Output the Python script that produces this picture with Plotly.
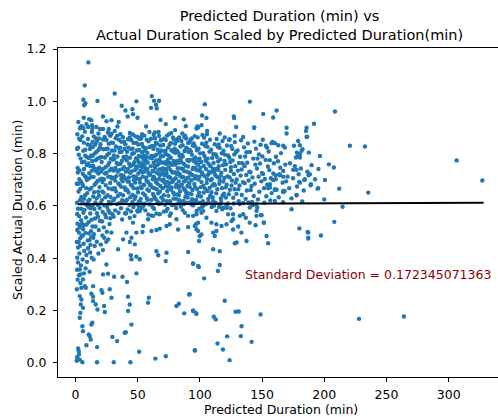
import plotly.graph_objects as go

# ---------------- data (predicted minutes, scaled actual duration) ----------------
bin_0_20 = [
(1.2,0.612),(2.5,0.655),(3.1,0.702),(1.8,0.745),(4.2,0.781),(2.2,0.823),(5.5,0.866),(3.6,0.897),(6.8,0.842),(7.9,0.792),
(9.2,0.756),(8.4,0.711),(6.1,0.676),(4.8,0.634),(9.6,0.603),(7.3,0.585),(2.9,0.561),(5.2,0.532),(1.5,0.508),(8.1,0.497),
(3.8,0.476),(6.6,0.455),(2.1,0.441),(9.0,0.529),(4.5,0.589),(1.1,0.685),(3.3,0.736),(5.9,0.723),(8.8,0.668),(7.0,0.627),
(2.7,0.796),(4.0,0.852),(6.3,0.811),(9.8,0.835),(1.6,0.874),(5.0,0.905),(7.6,0.884),(8.9,0.913),(2.3,0.921),(3.9,0.665),
(6.9,0.741),(9.4,0.786),(1.4,0.569),(5.7,0.612),(8.5,0.556),(3.4,0.518),(6.0,0.487),(9.9,0.468),(2.6,0.462),(4.6,0.545),
(7.8,0.641),(1.9,0.728),(5.3,0.767),(8.0,0.815),(3.0,0.857),(6.5,0.898),(4.3,0.694),(7.2,0.769),(9.1,0.699),(1.3,0.818),
(2.0,0.589),(4.9,0.486),(6.4,0.574),(8.6,0.607),(3.7,0.622),(5.6,0.684),(7.5,0.714),(9.5,0.649),(2.4,0.685),(6.7,0.526),
(1.7,0.532),
(10.3,0.618),(11.5,0.664),(12.8,0.712),(14.1,0.754),(15.6,0.801),(17.2,0.846),(18.5,0.877),(19.7,0.823),(16.4,0.775),(13.3,0.735),
(11.0,0.783),(12.2,0.832),(14.8,0.866),(16.9,0.902),(19.1,0.746),(17.8,0.695),(15.0,0.652),(13.6,0.603),(11.9,0.571),(10.6,0.538),
(12.5,0.503),(14.4,0.478),(16.2,0.521),(18.1,0.559),(19.5,0.592),(17.0,0.629),(15.3,0.588),(13.0,0.547),(11.2,0.469),(18.8,0.508),
(10.9,0.705),(12.0,0.752),(13.9,0.792),(15.9,0.835),(17.6,0.781),(19.9,0.701),(18.3,0.654),(16.6,0.688),(14.6,0.711),(12.9,0.669),
(11.4,0.624),(10.1,0.856),(13.2,0.883),(15.1,0.744),(17.4,0.741),(19.3,0.784),(18.7,0.815),(16.0,0.613),(14.3,0.636),(12.4,0.591),
(10.8,0.495),(13.7,0.521),(15.7,0.552),(17.9,0.604),(19.0,0.639),(11.7,0.818),(14.0,0.825),(16.3,0.859),(18.9,0.858),(10.4,0.762),
(12.6,0.793),(15.4,0.681),(17.3,0.572),(19.6,0.543),(11.1,0.725),(13.5,0.772),(16.8,0.732),(18.4,0.724),(14.9,0.492),(12.1,0.451),
(19.4,0.672),(10.7,0.595),(17.1,0.807),(13.8,0.845),
]

bin_20_50 = [
(20.3,0.611),(21.6,0.655),(22.9,0.702),(24.2,0.748),(25.5,0.795),(26.8,0.838),(28.1,0.868),(29.4,0.812),(27.2,0.765),(23.8,0.724),
(21.1,0.768),(22.4,0.817),(24.9,0.852),(26.1,0.881),(29.0,0.742),(27.9,0.688),(25.8,0.641),(23.3,0.602),(21.9,0.577),(20.6,0.541),
(22.8,0.518),(24.6,0.556),(26.5,0.583),(28.7,0.609),(29.8,0.568),(27.4,0.531),(25.2,0.501),(23.1,0.478),(20.9,0.704),(22.0,0.741),
(23.7,0.785),(25.0,0.727),(26.4,0.712),(27.7,0.736),(28.5,0.781),(29.6,0.664),(28.2,0.634),(26.7,0.667),(24.4,0.679),(22.6,0.651),
(21.3,0.623),(20.1,0.836),(23.5,0.864),(25.9,0.819),(27.0,0.801),(28.9,0.842),(20.5,0.731),(21.8,0.691),(24.0,0.633),(25.6,0.596),
(27.5,0.574),(29.2,0.705),(20.7,0.787),(22.2,0.854),(24.7,0.818),(26.2,0.756),(28.4,0.711),(29.9,0.777),(21.5,0.541),(23.9,0.567),
(26.9,0.615),(28.0,0.553),
(30.4,0.621),(31.7,0.668),(33.0,0.714),(34.3,0.759),(35.6,0.806),(36.9,0.845),(38.2,0.863),(39.5,0.818),(37.3,0.772),(33.9,0.731),
(31.2,0.779),(32.5,0.827),(35.0,0.853),(36.2,0.874),(39.1,0.748),(38.0,0.694),(35.9,0.646),(33.4,0.607),(32.0,0.583),(30.7,0.559),
(34.7,0.574),(36.6,0.591),(38.8,0.611),(39.8,0.572),(37.5,0.548),(31.0,0.708),(32.1,0.745),(33.8,0.789),(35.1,0.737),(36.5,0.718),
(37.8,0.741),(38.6,0.787),(39.7,0.671),(38.3,0.641),(36.8,0.673),(34.5,0.686),(32.7,0.655),(31.4,0.628),(30.2,0.841),(33.6,0.869),
(36.0,0.823),(37.1,0.807),(39.0,0.846),(30.6,0.735),(31.9,0.697),(34.1,0.638),(35.7,0.611),(37.6,0.622),(39.3,0.708),(30.8,0.793),
(32.3,0.859),(34.8,0.822),(36.3,0.761),(38.5,0.716),(39.9,0.782),(31.5,0.812),(33.2,0.764),(35.4,0.681),(37.0,0.703),(30.1,0.667),
(40.4,0.618),(41.7,0.661),(43.0,0.709),(44.3,0.752),(45.6,0.799),(46.9,0.841),(48.2,0.866),(49.5,0.812),(47.3,0.767),(43.9,0.727),
(41.2,0.774),(42.5,0.823),(45.0,0.851),(46.2,0.873),(49.1,0.744),(48.0,0.689),(45.9,0.642),(43.4,0.604),(42.0,0.586),(40.7,0.571),
(44.7,0.579),(46.6,0.596),(48.8,0.607),(49.8,0.583),(47.5,0.561),(41.0,0.703),(42.1,0.741),(43.8,0.784),(45.1,0.732),(46.5,0.713),
(47.8,0.737),(48.6,0.782),(49.7,0.667),(48.3,0.636),(46.8,0.668),(44.5,0.681),(42.7,0.651),(41.4,0.624),(40.2,0.836),(43.6,0.862),
(46.0,0.819),(47.1,0.802),(49.0,0.841),(40.6,0.731),(41.9,0.693),(44.1,0.633),(45.7,0.614),(47.6,0.626),(49.3,0.704),(40.8,0.789),
(42.3,0.855),(44.8,0.817),(46.3,0.757),(48.5,0.712),(49.9,0.777),(41.5,0.807),(43.2,0.761),(45.4,0.677),(47.0,0.698),(40.1,0.662),
(42.9,0.693),(48.9,0.751),
]

bin_50_100 = [
(50.3,0.652),(51.8,0.703),(52.6,0.611),(53.9,0.748),(54.4,0.826),(55.2,0.681),(56.7,0.772),(57.5,0.629),(58.8,0.847),(59.6,0.719),
(50.9,0.791),(51.4,0.856),(52.2,0.735),(53.1,0.668),(54.8,0.601),(55.9,0.812),(56.3,0.743),(57.1,0.697),(58.2,0.766),(59.1,0.658),
(50.6,0.724),(51.1,0.617),(52.9,0.788),(53.5,0.837),(54.1,0.712),(55.6,0.757),(56.0,0.641),(57.8,0.803),(58.5,0.691),(59.9,0.784),
(50.1,0.578),(51.6,0.762),(52.4,0.672),(53.3,0.592),(54.6,0.779),(55.4,0.869),(56.9,0.709),(57.3,0.853),(58.0,0.623),(59.4,0.825),
(50.5,0.835),(51.9,0.689),(52.7,0.861),(53.7,0.729),(54.3,0.648),(55.0,0.731),(56.5,0.821),(57.7,0.741),(58.6,0.567),(59.2,0.606),
(50.8,0.768),(51.3,0.814),(52.0,0.752),(53.6,0.805),(54.9,0.679),(55.7,0.608),(56.2,0.583),(57.0,0.787),(58.4,0.728),(59.7,0.681),
(52.5,0.627),(55.3,0.792),(57.9,0.663),(51.0,0.597),(54.0,0.763),
(60.2,0.718),(61.5,0.782),(62.3,0.646),(63.6,0.829),(64.1,0.701),(65.8,0.757),(66.4,0.612),(67.7,0.803),(68.3,0.676),(69.5,0.741),
(60.7,0.857),(61.1,0.623),(62.8,0.765),(63.2,0.589),(64.6,0.842),(65.3,0.664),(66.9,0.723),(67.2,0.868),(68.8,0.789),(69.1,0.632),
(60.4,0.681),(61.9,0.734),(62.6,0.818),(63.9,0.751),(64.4,0.627),(65.1,0.796),(66.0,0.685),(67.5,0.739),(68.6,0.851),(69.8,0.697),
(60.9,0.791),(61.7,0.671),(62.1,0.702),(63.4,0.668),(64.9,0.774),(65.6,0.839),(66.7,0.761),(67.0,0.607),(68.0,0.718),(69.3,0.812),
(60.1,0.606),(61.3,0.829),(62.9,0.872),(63.0,0.712),(64.2,0.745),(65.9,0.617),(66.2,0.815),(67.9,0.654),(68.5,0.767),(69.6,0.766),
(60.6,0.752),(61.2,0.563),(62.4,0.732),(63.7,0.792),(64.8,0.691),(65.4,0.728),(66.5,0.648),(67.4,0.778),(68.9,0.609),(69.0,0.852),
(62.0,0.596),(64.0,0.859),(66.8,0.883),(68.2,0.831),(65.2,0.571),(67.3,0.703),(63.3,0.636),(69.9,0.728),
(70.3,0.743),(71.6,0.689),(72.4,0.811),(73.8,0.657),(74.2,0.776),(75.7,0.835),(76.1,0.618),(77.9,0.728),(78.4,0.862),(79.2,0.701),
(70.8,0.622),(71.2,0.857),(72.9,0.735),(73.3,0.797),(74.7,0.639),(75.1,0.712),(76.6,0.784),(77.3,0.671),(78.7,0.759),(79.8,0.819),
(70.5,0.791),(71.9,0.763),(72.1,0.604),(73.6,0.869),(74.9,0.748),(75.4,0.686),(76.8,0.841),(77.6,0.603),(78.1,0.694),(79.5,0.644),
(70.1,0.668),(71.4,0.718),(72.7,0.675),(73.1,0.725),(74.5,0.823),(75.9,0.764),(76.3,0.707),(77.2,0.813),(78.9,0.628),(79.0,0.772),
(70.6,0.833),(71.1,0.641),(72.6,0.852),(73.9,0.692),(74.0,0.589),(75.5,0.611),(76.9,0.662),(77.5,0.757),(78.3,0.808),(79.7,0.729),
(70.9,0.701),(71.7,0.807),(72.2,0.767),(73.5,0.618),(74.3,0.712),(75.2,0.874),(76.4,0.737),(77.0,0.879),(78.6,0.651),(79.3,0.854),
(71.0,0.578),(73.0,0.761),(75.0,0.792),(77.8,0.691),(79.9,0.604),(72.0,0.741),(74.6,0.673),(76.7,0.571),
(80.4,0.758),(81.3,0.682),(82.7,0.804),(83.1,0.641),(84.6,0.781),(85.2,0.848),(86.8,0.619),(87.4,0.733),(88.1,0.869),(89.6,0.706),
(80.9,0.627),(81.8,0.849),(82.2,0.728),(83.7,0.792),(84.1,0.655),(85.8,0.709),(86.3,0.789),(87.9,0.662),(88.5,0.754),(89.1,0.823),
(80.2,0.803),(81.1,0.768),(82.5,0.609),(83.4,0.862),(84.9,0.743),(85.5,0.681),(86.1,0.832),(87.2,0.607),(88.8,0.697),(89.3,0.647),
(80.7,0.673),(81.5,0.722),(82.9,0.669),(83.9,0.721),(84.4,0.827),(85.0,0.768),(86.6,0.711),(87.7,0.809),(88.3,0.634),(89.9,0.776),
(80.1,0.838),(81.9,0.644),(82.4,0.857),(83.2,0.694),(84.7,0.598),(85.3,0.614),(86.9,0.667),(87.0,0.761),(88.0,0.812),(89.5,0.731),
(80.6,0.706),(81.6,0.811),(82.0,0.772),(83.6,0.622),(84.2,0.714),(85.9,0.877),(86.4,0.741),(87.5,0.864),(88.7,0.655),(89.0,0.858),
(81.0,0.591),(83.0,0.765),(85.6,0.795),(87.3,0.693),(89.7,0.612),(82.3,0.744),(84.0,0.677),(86.2,0.584),
(90.5,0.751),(91.4,0.687),(92.8,0.808),(93.2,0.645),(94.7,0.779),(95.1,0.839),(96.9,0.623),(97.3,0.737),(98.2,0.862),(99.7,0.712),
(90.2,0.632),(91.9,0.844),(92.3,0.724),(93.6,0.796),(94.0,0.661),(95.9,0.705),(96.4,0.785),(97.8,0.665),(98.6,0.758),(99.0,0.819),
(90.8,0.807),(91.0,0.772),(92.6,0.614),(93.5,0.858),(94.8,0.746),(95.6,0.684),(96.0,0.828),(97.1,0.611),(98.9,0.701),(99.4,0.651),
(90.1,0.676),(91.6,0.727),(92.0,0.672),(93.9,0.718),(94.3,0.831),(95.2,0.772),(96.7,0.714),(97.6,0.813),(98.4,0.638),(99.8,0.781),
(90.6,0.841),(91.2,0.648),(92.5,0.853),(93.1,0.698),(94.5,0.602),(95.4,0.619),(96.2,0.671),(97.0,0.764),(98.0,0.816),(99.2,0.735),
(90.9,0.709),(91.7,0.815),(92.1,0.776),(93.7,0.626),(94.2,0.741),(95.8,0.867),(96.5,0.745),(97.4,0.581),(98.7,0.776),(99.5,0.589),
]

bin_100_200 = [
(100.4,0.746),(101.3,0.691),(102.7,0.802),(103.1,0.651),(104.6,0.776),(105.2,0.842),(106.8,0.627),(107.4,0.731),(108.1,0.853),(109.6,0.703),
(100.9,0.636),(101.8,0.838),(102.2,0.721),(103.7,0.791),(104.1,0.667),(105.8,0.702),(106.3,0.781),(107.9,0.669),(108.5,0.752),(109.1,0.815),
(100.2,0.801),(101.1,0.768),(102.5,0.618),(103.4,0.861),(104.9,0.741),(105.5,0.688),(106.1,0.826),(107.2,0.612),(108.8,0.698),(109.3,0.652),
(100.7,0.672),(101.5,0.729),(102.9,0.676),(103.9,0.714),(104.4,0.829),(105.0,0.771),(106.6,0.719),(107.7,0.807),(108.3,0.639),(109.9,0.783),
(100.1,0.612),(101.9,0.597),(103.2,0.753),(104.7,0.607),(106.0,0.657),(107.0,0.761),(108.9,0.728),(105.7,0.874),(102.1,0.871),(109.5,0.596),
(110.5,0.742),(111.4,0.684),(112.8,0.797),(113.2,0.648),(114.7,0.771),(115.1,0.835),(116.9,0.629),(117.3,0.727),(118.2,0.848),(119.7,0.707),
(110.2,0.633),(111.9,0.836),(112.3,0.718),(113.6,0.788),(114.0,0.664),(115.9,0.699),(116.4,0.778),(117.8,0.668),(118.6,0.756),(119.0,0.811),
(110.8,0.799),(111.0,0.764),(112.6,0.612),(113.5,0.856),(114.8,0.738),(115.6,0.685),(116.0,0.822),(117.1,0.616),(118.9,0.693),(119.4,0.647),
(110.1,0.678),(111.6,0.731),(112.0,0.679),(113.9,0.711),(114.3,0.826),(115.2,0.752),(116.7,0.715),(117.6,0.801),(118.4,0.641),(119.8,0.772),
(111.3,0.601),(115.4,0.596),(118.0,0.587),(113.0,0.741),
(120.4,0.738),(121.6,0.681),(122.7,0.793),(123.3,0.645),(124.5,0.768),(125.2,0.829),(126.8,0.631),(127.4,0.722),(128.1,0.844),(129.6,0.701),
(120.9,0.632),(121.8,0.831),(122.2,0.713),(123.7,0.784),(124.1,0.662),(125.8,0.697),(126.3,0.774),(127.9,0.664),(128.5,0.752),(129.1,0.806),
(120.2,0.796),(121.1,0.759),(122.5,0.609),(123.4,0.852),(124.9,0.734),(125.5,0.678),(126.1,0.818),(127.2,0.609),(128.8,0.689),(129.3,0.646),
(120.7,0.671),(123.9,0.709),(125.0,0.748),(127.7,0.797),(121.3,0.593),(124.6,0.591),
(130.6,0.735),(131.9,0.678),(132.4,0.788),(133.7,0.642),(134.2,0.763),(135.5,0.824),(136.8,0.627),(137.3,0.718),(138.6,0.839),(139.2,0.697),
(130.3,0.812),(131.2,0.618),(132.8,0.716),(133.1,0.851),(134.7,0.691),(135.9,0.752),(136.4,0.789),(137.8,0.659),(138.1,0.765),(139.7,0.731),
(130.9,0.664),(132.0,0.607),(134.9,0.611),(136.0,0.687),(137.5,0.805),(139.0,0.613),(131.5,0.764),(133.5,0.739),
(140.7,0.729),(141.5,0.676),(142.9,0.781),(143.3,0.638),(144.6,0.758),(145.1,0.819),(146.7,0.625),(147.2,0.712),(148.8,0.834),(149.4,0.694),
(140.2,0.806),(141.9,0.615),(142.3,0.709),(143.8,0.846),(144.1,0.685),(145.9,0.743),(146.3,0.781),(147.8,0.654),(148.3,0.762),(149.9,0.726),
(140.9,0.661),(142.6,0.603),(145.5,0.607),(147.5,0.797),
(150.8,0.722),(151.6,0.668),(152.9,0.776),(153.4,0.637),(154.7,0.751),(155.3,0.808),(156.6,0.621),(157.1,0.706),(158.9,0.699),(159.5,0.763),
(150.3,0.789),(151.9,0.612),(152.2,0.703),(154.1,0.681),(155.8,0.737),(156.2,0.775),(157.7,0.649),(159.0,0.724),
(160.9,0.717),(161.7,0.662),(162.8,0.771),(163.4,0.633),(164.6,0.746),(165.2,0.802),(166.5,0.689),(167.1,0.712),(168.6,0.758),(169.3,0.694),
(161.2,0.788),(163.9,0.721),(166.9,0.614),(168.1,0.657),
(170.5,0.712),(171.8,0.668),(172.4,0.763),(173.6,0.629),(174.9,0.706),(176.3,0.752),(178.1,0.674),(179.4,0.721),
(181.2,0.743),(183.5,0.659),(186.4,0.731),(189.8,0.756),(192.6,0.702),(195.3,0.741),
]

upper_fringe = [
(10.4,1.149),(7.5,1.061),(31.6,1.030),(6.4,1.006),(7.0,0.985),(8.0,0.993),(17.7,1.001),(37.2,0.983),(40.2,0.965),(42.0,0.942),
(45.8,0.970),(46.3,0.951),(49.0,1.000),(49.9,0.937),(61.4,1.020),(63.2,1.002),(64.8,0.987),(67.2,1.002),(60.8,0.975),(65.4,0.973),
(22.2,0.942),(6.7,0.937),(11.0,0.932),(12.8,0.928),(25.0,0.924),(29.0,0.928),(34.8,0.921),(33.8,0.904),(68.4,0.929),(72.6,0.913),
(79.9,0.937),(87.1,0.931),(56.8,0.904),(80.1,0.890),(88.7,0.905),(97.3,0.896),(98.0,0.904),(4.3,0.902),(10.2,0.902),(13.4,0.909),
(13.6,0.896),(19.8,0.894),(22.2,0.894),(26.8,0.894),(31.6,0.887),(29.0,0.876),(27.6,0.871),(43.7,0.879),(50.1,0.864),(53.6,0.874),
(59.5,0.883),(63.8,0.881),(52.8,0.858),
(104.0,0.989),(140.2,0.999),(101.8,0.946),(105.3,0.936),(150.9,0.952),(161.7,0.965),(158.9,0.938),(127.3,0.942),(127.5,0.936),(191.7,0.914),
(169.7,0.899),(169.7,0.877),(185.8,0.899),(185.3,0.887),(185.8,0.864),(143.6,0.899),(129.2,0.902),(98.6,0.900),(101.3,0.909),(105.8,0.887),
(116.0,0.877),(120.0,0.862),(134.8,0.864),(128.0,0.868),(124.0,0.855),(143.7,0.900),(186.3,0.865),(208.6,0.961),
]

right_tail = [
(150.6,0.853),(157.6,0.840),(160.3,0.840),(167.0,0.830),(163.0,0.832),(154.0,0.823),(179.0,0.848),(180.4,0.832),(175.6,0.830),(187.6,0.804),
(196.5,0.791),(203.7,0.759),(178.0,0.804),(177.2,0.785),(179.0,0.791),(180.4,0.785),(175.0,0.738),(177.7,0.738),(187.4,0.717),(184.4,0.702),
(180.4,0.689),(189.0,0.679),(195.1,0.668),(200.5,0.699),(167.0,0.653),(177.7,0.642),(182.3,0.617),(200.0,0.625),(155.0,0.668),(160.3,0.661),
(156.3,0.683),(161.0,0.702),(164.4,0.717),(167.0,0.734),(153.0,0.830),(158.4,0.845),(168.3,0.823),(182.5,0.817),(181.7,0.811),(180.4,0.798),
(220.6,0.830),(232.7,0.827),(207.7,0.747),(212.0,0.666),(235.3,0.651),(214.7,0.597),(208.0,0.539),(197.3,0.487),(187.1,0.498),(187.1,0.478),
(179.9,0.514),(173.7,0.587),(177.7,0.641),(167.0,0.657),(160.3,0.664),(156.3,0.670),(179.9,0.692),(183.9,0.699),(188.4,0.721),(189.2,0.683),
(160.3,0.619),(146.1,0.594),(145.6,0.581),(149.6,0.564),(151.5,0.536),(144.8,0.526),(153.6,0.485),(194.6,0.666),(186.6,0.500),(187.1,0.475),
(149.0,0.565),(151.4,0.536),(154.9,0.457),(306.4,0.774),(327.0,0.697),
]

below_line = [
(1.5,0.402),(3.2,0.418),(2.1,0.384),(4.4,0.372),(1.3,0.356),(5.8,0.395),(3.6,0.447),(7.1,0.428),(8.8,0.412),(2.8,0.498),
(4.1,0.527),(6.2,0.511),(10.2,0.438),(11.8,0.422),(13.1,0.402),(9.3,0.386),(15.5,0.447),(17.2,0.463),(12.7,0.481),(20.4,0.452),
(22.1,0.431),(18.5,0.418),(14.6,0.395),(24.8,0.463),(21.7,0.487),(26.3,0.472),(1.1,0.462),(1.8,0.318),(2.9,0.335),(4.0,0.305),
(1.2,0.281),(8.2,0.361),(11.4,0.348),(6.8,0.342),
(28.9,0.498),(34.3,0.434),(41.0,0.498),(45.0,0.478),(49.0,0.498),(53.9,0.500),(61.1,0.504),(65.1,0.508),(67.8,0.513),(73.2,0.523),
(75.8,0.530),(82.5,0.510),(90.6,0.519),(98.6,0.504),(96.8,0.530),(38.3,0.472),(43.7,0.462),(47.7,0.453),(44.5,0.411),(49.0,0.406),
(51.7,0.396),(45.0,0.396),(65.1,0.427),(66.5,0.411),(73.2,0.421),(72.6,0.389),(90.6,0.424),(94.6,0.380),(98.6,0.370),(24.9,0.376),
(26.2,0.341),(22.2,0.338),(31.1,0.329),(37.8,0.329),(41.5,0.309),(49.0,0.342),(3.5,0.357),(4.0,0.338),(6.1,0.319),(7.5,0.293),
(4.8,0.287),(8.3,0.287),(14.2,0.293),(12.8,0.264),(14.2,0.253),(20.9,0.278),(21.7,0.268),(27.6,0.281),(29.0,0.249),(3.5,0.255),
(4.8,0.242),(4.3,0.223),(6.1,0.210),(4.0,0.191),(3.5,0.172),(14.2,0.236),(16.3,0.223),(17.7,0.204),(23.0,0.217),(23.6,0.194),
(42.3,0.253),(43.7,0.223),(42.3,0.198),(45.0,0.146),(59.0,0.249),(58.4,0.230),(81.2,0.217),(83.1,0.226),(87.4,0.189),(91.4,0.261),
(94.6,0.198),(97.3,0.187),(5.6,0.140),(6.1,0.121),(12.8,0.146),(13.6,0.153),(11.5,0.102),(12.3,0.089),(10.7,0.108),(8.8,0.067),
(17.4,0.060),(29.7,0.099),(33.5,0.083),(39.6,0.115),(40.5,0.117),(51.2,0.042),(64.3,0.016),(72.6,0.025),(96.0,0.048),(2.7,0.044),
(2.9,0.032),(3.5,0.012),(5.6,0.002),(17.4,0.002),(30.8,0.002),(44.2,0.002),(1.4,0.021),(2.2,0.055),(1.0,0.008),
(93.2,0.606),(97.3,0.613),(102.6,0.600),(106.6,0.613),(110.7,0.619),(116.0,0.606),(118.7,0.593),(121.4,0.600),(94.6,0.562),(97.3,0.568),
(101.3,0.574),(105.3,0.555),(98.6,0.536),(95.9,0.523),(97.3,0.511),(109.3,0.536),(113.3,0.530),(117.4,0.523),(121.4,0.530),(125.4,0.542),
(126.7,0.568),(132.1,0.562),(134.8,0.568),(136.9,0.555),(99.9,0.485),(101.3,0.491),(99.4,0.466),(110.7,0.498),(112.0,0.485),(113.3,0.504),
(110.7,0.434),(116.0,0.427),(130.8,0.521),(129.5,0.460),(94.6,0.379),(99.2,0.366),(116.0,0.374),(114.5,0.351),(103.4,0.323),(91.9,0.262),
(94.6,0.200),(96.8,0.191),(120.0,0.237),(111.2,0.176),(112.8,0.166),(128.7,0.195),(131.3,0.196),(148.8,0.185),(133.5,0.140),(121.9,0.101),
(132.9,0.102),(141.6,0.080),(114.2,0.074),(118.5,0.051),(96.0,0.047),(123.9,0.010),(227.9,0.168),(264.0,0.177),
(43.7,0.555),(51.7,0.581),(58.4,0.549),(62.4,0.562),(67.8,0.568),(73.1,0.581),(75.8,0.562),(81.2,0.549),(87.9,0.574),(90.6,0.562),
(102.6,0.581),(113.3,0.581),(122.7,0.568),(126.7,0.549),(140.1,0.594),(145.5,0.562),(46.3,0.536),(54.4,0.523),(140.1,0.536),(133.4,0.498),
(137.5,0.466),(126.7,0.510),(128.1,0.457),
]

fit_x = [2.0, 328.0]
fit_y = [0.606, 0.612]
std_dev_label = "Standard Deviation = 0.172345071363"
title_text = "Predicted Duration (min) vs<br>Actual Duration Scaled by Predicted Duration(min)"

x_ticks = [0, 50, 100, 150, 200, 250, 300]
y_ticks = [0.0, 0.2, 0.4, 0.6, 0.8, 1.0, 1.2]

points = bin_0_20 + bin_20_50 + bin_50_100 + bin_100_200 + upper_fringe + right_tail + below_line
px = [p[0] for p in points]
py = [p[1] for p in points]

FONT = "DejaVu Sans"
fig = go.Figure()
fig.add_trace(go.Scatter(x=px, y=py, mode="markers",
                         marker=dict(color="#1f77b4", size=4.4, line=dict(width=0)),
                         showlegend=False, hoverinfo="skip"))
fig.add_trace(go.Scatter(x=fit_x, y=fit_y, mode="lines",
                         line=dict(color="black", width=2), showlegend=False))

fig.update_layout(
    width=498, height=417,
    margin=dict(l=58, r=0, t=48, b=40),
    paper_bgcolor="white", plot_bgcolor="white",
    font=dict(family=FONT, size=12.5, color="black"),
    xaxis=dict(range=[-14.0, 339.6], tickvals=x_ticks, showgrid=False, zeroline=False,
               showline=True, linecolor="black", linewidth=1, mirror=True,
               ticks="outside", ticklen=4, tickwidth=1, tickcolor="black",
               tickfont=dict(family=FONT, size=12.5, color="black"), ticklabelstandoff=2),
    yaxis=dict(range=[-0.0544, 1.204], tickvals=y_ticks, tickformat=".1f", showgrid=False, zeroline=False,
               showline=True, linecolor="black", linewidth=1, mirror=False,
               ticks="outside", ticklen=4, tickwidth=1, tickcolor="black",
               tickfont=dict(family=FONT, size=12.5, color="black"), ticklabelstandoff=4),
    annotations=[
        dict(text=title_text, xref="paper", yref="paper", x=0.5045, y=1.0684,
             xanchor="center", yanchor="middle", showarrow=False, font=dict(family=FONT, size=14.5)),
        dict(text="Predicted Duration (min)", xref="paper", yref="paper", x=0.5057, y=-0.1003,
             xanchor="center", yanchor="middle", showarrow=False, font=dict(family=FONT, size=12.5)),
        dict(text="Scaled Actual Duration (min)", xref="paper", yref="paper", x=-0.0909, y=0.5076,
             xanchor="center", yanchor="middle", textangle=-90, showarrow=False,
             font=dict(family=FONT, size=12.5)),
        dict(text=std_dev_label, xref="x", yref="y", x=135.0, y=0.338, xanchor="left", yanchor="middle",
             showarrow=False, font=dict(family=FONT, size=12.5, color="#8b0000")),
    ],
)

fig.write_html("out.html")
